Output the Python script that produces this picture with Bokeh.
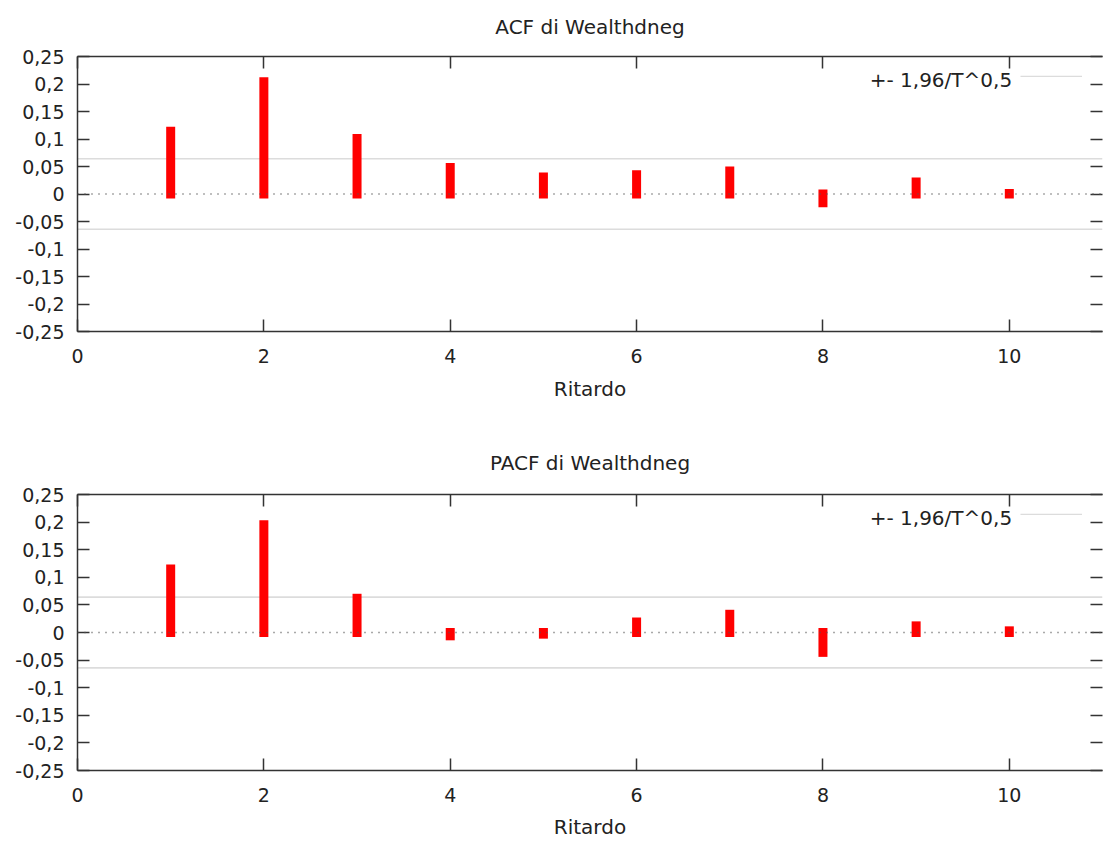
from bokeh.plotting import figure
from bokeh.layouts import column
from bokeh.models import (FixedTicker, Span, Legend, LegendItem, LinearAxis,
                          Range1d, Label, ColumnDataSource, CustomLabelingPolicy)
from bokeh.embed import file_html
from bokeh.resources import INLINE

# ---------------- data ----------------
lags = [1, 2, 3, 4, 5, 6, 7, 8, 9, 10]
acf_values = [0.114, 0.204, 0.101, 0.048, 0.031, 0.035, 0.042, -0.016, 0.022, 0.001]
pacf_values = [0.115, 0.195, 0.062, -0.006, -0.003, 0.019, 0.033, -0.036, 0.012, 0.003]
conf_band = 0.064
x_ticks = [0, 2, 4, 6, 8, 10]
y_ticks = [-0.25, -0.2, -0.15, -0.1, -0.05, 0.0, 0.05, 0.1, 0.15, 0.2, 0.25]
y_tick_labels = ["-0,25", "-0,2", "-0,15", "-0,1", "-0,05", "0",
                 "0,05", "0,1", "0,15", "0,2", "0,25"]
titles = ["ACF di Wealthdneg", "PACF di Wealthdneg"]
x_label = "Ritardo"
legend_label = "+- 1,96/T^0,5"
x_min, x_max = 0, 11
y_min, y_max = -0.25, 0.25

FONT = "DejaVu Sans"
FS = "19px"
FS_BIG = "20px"
TXT = "#222222"
AX = "#333333"

NO_LABELS = """
for (const i of indices) indices.unset(i)
return indices
"""


def make_panel(title, values, height, top, bottom, tick_standoff,
               label_standoff, title_standoff, title_valign):
    p = figure(width=1108, height=height,
               x_range=Range1d(x_min, x_max), y_range=Range1d(y_min, y_max),
               output_backend="svg", toolbar_location=None,
               x_axis_location=None, y_axis_location=None,
               min_border_left=77, min_border_right=0,
               min_border_top=top, min_border_bottom=bottom,
               outline_line_color=None, background_fill_color="white",
               border_fill_color="white")
    p.grid.visible = False

    p.title.text = title
    p.title.align = "center"
    p.title.vertical_align = title_valign
    p.title.text_font = FONT
    p.title.text_font_size = FS_BIG
    p.title.text_font_style = "normal"
    p.title.text_color = TXT
    p.title.standoff = title_standoff

    def style(ax, labels=True):
        ax.axis_line_color = AX
        ax.axis_line_width = 1.5
        ax.major_tick_line_color = AX
        ax.major_tick_line_width = 1.5
        ax.major_tick_in = 12
        ax.major_tick_out = 0
        ax.minor_tick_line_color = None
        ax.major_label_text_font = FONT
        ax.major_label_text_color = TXT
        if labels:
            ax.major_label_text_font_size = FS
        else:
            ax.major_label_text_font_size = "1px"
            ax.major_label_standoff = 0
            ax.major_label_policy = CustomLabelingPolicy(code=NO_LABELS)

    bottom_ax = LinearAxis(ticker=FixedTicker(ticks=x_ticks), axis_label=x_label)
    style(bottom_ax)
    bottom_ax.major_label_standoff = tick_standoff
    bottom_ax.axis_label_text_font = FONT
    bottom_ax.axis_label_text_font_size = FS_BIG
    bottom_ax.axis_label_text_font_style = "normal"
    bottom_ax.axis_label_text_color = TXT
    bottom_ax.axis_label_standoff = label_standoff
    p.add_layout(bottom_ax, "below")

    top_ax = LinearAxis(ticker=FixedTicker(ticks=x_ticks))
    style(top_ax, labels=False)
    p.add_layout(top_ax, "above")

    left_ax = LinearAxis(ticker=FixedTicker(ticks=y_ticks),
                         major_label_overrides=dict(zip(y_ticks, y_tick_labels)))
    style(left_ax)
    left_ax.major_label_standoff = 13
    p.add_layout(left_ax, "left")

    right_ax = LinearAxis(ticker=FixedTicker(ticks=y_ticks))
    style(right_ax, labels=False)
    right_ax.axis_line_color = None
    p.add_layout(right_ax, "right")

    # zero line
    p.add_layout(Span(location=0, dimension="width", line_color="#555555",
                      line_dash="1 6", line_width=1.3))

    # confidence band lines
    upper = p.line(x=[x_min, x_max], y=[conf_band, conf_band],
                   line_color="#dcdcdc", line_width=1.6)
    p.line(x=[x_min, x_max], y=[-conf_band, -conf_band],
           line_color="#dcdcdc", line_width=1.6)

    # impulses
    src = ColumnDataSource(dict(lag=lags, val=values, zero=[0] * len(lags)))
    p.segment(x0="lag", y0="zero", x1="lag", y1="val", source=src,
              line_color="#ff0000", line_width=9, line_cap="square")

    # legend: text on the left, sample line on the right
    p.add_layout(Label(x=10.03, y=0.208, text=legend_label, text_align="right",
                       text_baseline="middle", text_font=FONT,
                       text_font_size=FS_BIG, text_color=TXT))
    leg = Legend(items=[LegendItem(label=" ", renderers=[upper])],
                 location="top_right", margin=19, padding=0,
                 glyph_width=62, glyph_height=2, label_standoff=0,
                 label_text_font_size="1px", label_height=2, label_width=1,
                 border_line_color=None, background_fill_alpha=0)
    p.add_layout(leg)
    return p


p1 = make_panel(titles[0], acf_values, 420, 56, 89, 17, 11, 26, "middle")
p2 = make_panel(titles[1], pacf_values, 421, 74, 71, 17, 10, 32, "bottom")
page = column(p1, p2, spacing=0)

open("out.html", "w").write(file_html(page, INLINE))
